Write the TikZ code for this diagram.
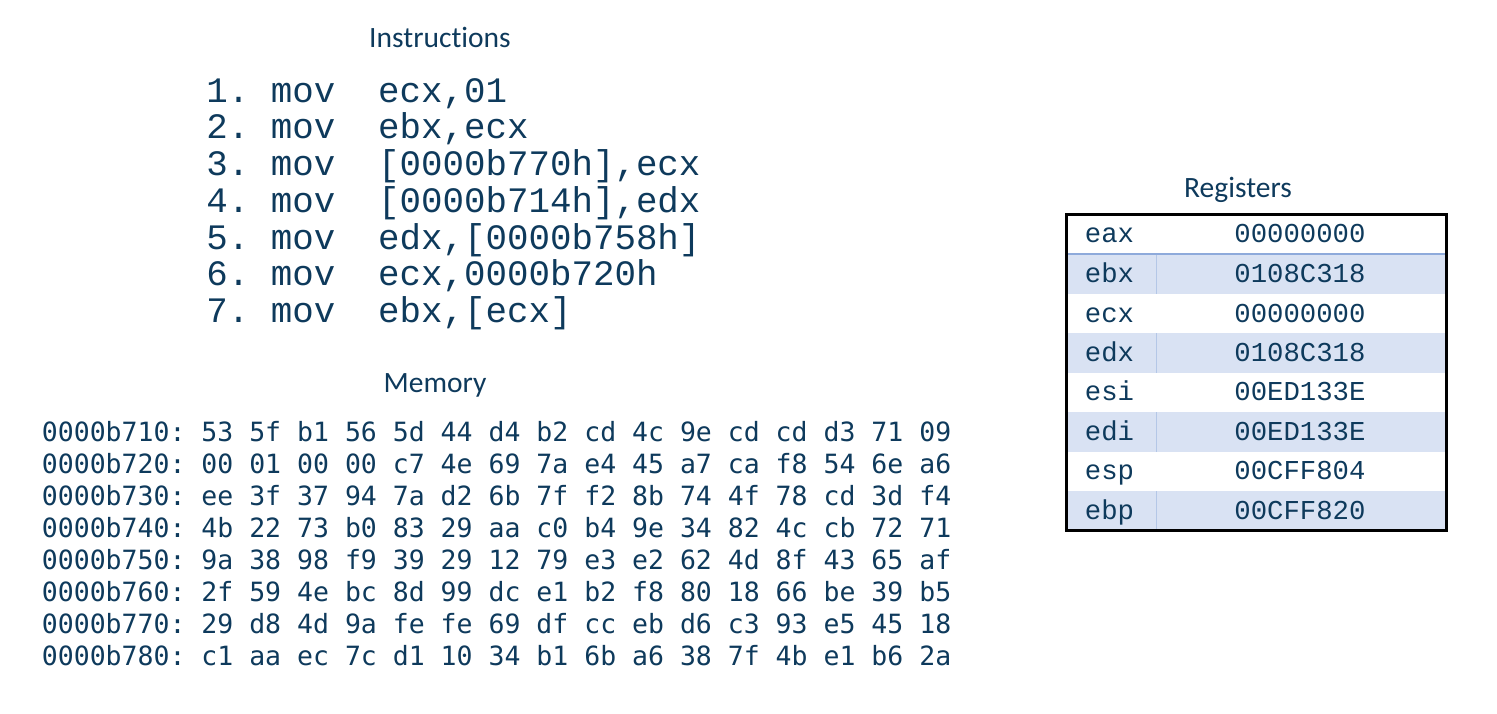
\documentclass[tikz,border=0pt]{standalone}
\usepackage{fontspec}
\setmainfont{Carlito}[Ligatures=CommonOff]
\newfontfamily\courfont{Liberation Mono}
\newfontfamily\dvmfont{DejaVu Sans Mono}
\definecolor{ink}{RGB}{14,58,92}
\definecolor{rowblue}{RGB}{217,226,243}
\definecolor{sepblue}{RGB}{142,170,219}
\definecolor{divblue}{RGB}{180,199,231}
\begin{document}
\begin{tikzpicture}[x=0.5pt,y=-0.5pt,
  title/.style={font=\fontsize{14.75}{16}\selectfont, text=ink, inner sep=0pt, anchor=base},
  instr/.style={font=\courfont\fontsize{17.9}{20}\selectfont\frenchspacing, text=ink, inner sep=0pt, anchor=base west},
  memrow/.style={font=\dvmfont\fontsize{13.25}{15}\selectfont\frenchspacing, text=ink, inner sep=0pt, anchor=base west},
  reg/.style={font=\courfont\fontsize{13.65}{15}\selectfont, text=ink, inner sep=0pt, anchor=base west},
  bluerow/.style={fill=rowblue, draw=none},
  divline/.style={draw=divblue, line width=0.5pt},
  ]
\useasboundingbox (0,0) rectangle (1497,713);

% titles
\node[title] (tinstr) at (440,47) {Instructions};
\node[title] (tmem) at (435,392) {Memory};
\node[title] (treg) at (1238,197) {Registers};

% instructions
\node[instr] (i1) at (206,102)    {1. mov\ \ ecx,01};
\node[instr] (i2) at (206,138.75) {2. mov\ \ ebx,ecx};
\node[instr] (i3) at (206,175.5)  {3. mov\ \ [0000b770h],ecx};
\node[instr] (i4) at (206,212.25) {4. mov\ \ [0000b714h],edx};
\node[instr] (i5) at (206,249)    {5. mov\ \ edx,[0000b758h]};
\node[instr] (i6) at (206,285.75) {6. mov\ \ ecx,0000b720h};
\node[instr] (i7) at (206,322.5)  {7. mov\ \ ebx,[ecx]};

% memory
\node[memrow] (m1) at (41.5,441) {0000b710: 53 5f b1 56 5d 44 d4 b2 cd 4c 9e cd cd d3 71 09};
\node[memrow] (m2) at (41.5,473) {0000b720: 00 01 00 00 c7 4e 69 7a e4 45 a7 ca f8 54 6e a6};
\node[memrow] (m3) at (41.5,505) {0000b730: ee 3f 37 94 7a d2 6b 7f f2 8b 74 4f 78 cd 3d f4};
\node[memrow] (m4) at (41.5,537) {0000b740: 4b 22 73 b0 83 29 aa c0 b4 9e 34 82 4c cb 72 71};
\node[memrow] (m5) at (41.5,569) {0000b750: 9a 38 98 f9 39 29 12 79 e3 e2 62 4d 8f 43 65 af};
\node[memrow] (m6) at (41.5,601) {0000b760: 2f 59 4e bc 8d 99 dc e1 b2 f8 80 18 66 be 39 b5};
\node[memrow] (m7) at (41.5,633) {0000b770: 29 d8 4d 9a fe fe 69 df cc eb d6 c3 93 e5 45 18};
\node[memrow] (m8) at (41.5,665) {0000b780: c1 aa ec 7c d1 10 34 b1 6b a6 38 7f 4b e1 b6 2a};

% registers table
\fill[bluerow] (1066,254) rectangle (1446.7,294);
\fill[bluerow] (1066,333) rectangle (1446.7,372.7);
\fill[bluerow] (1066,412) rectangle (1446.7,451.7);
\fill[bluerow] (1066,491) rectangle (1446.7,530);
\draw[divline] (1156.7,254) -- (1156.7,294);
\draw[divline] (1156.7,333) -- (1156.7,372.7);
\draw[divline] (1156.7,412) -- (1156.7,451.7);
\draw[divline] (1156.7,491) -- (1156.7,530);
\draw[draw=sepblue, line width=0.75pt] (1066,254) -- (1446.7,254);
\draw[black, line width=1.5pt] (1066,214.3) rectangle (1446.7,530);

\node[reg] (n1) at (1084.5,242.7) {eax};
\node[reg] (v1) at (1234,242.7) {00000000};
\node[reg] (n2) at (1084.5,282.5) {ebx};
\node[reg] (v2) at (1234,282.5) {0108C318};
\node[reg] (n3) at (1084.5,322) {ecx};
\node[reg] (v3) at (1234,322) {00000000};
\node[reg] (n4) at (1084.5,361.4) {edx};
\node[reg] (v4) at (1234,361.4) {0108C318};
\node[reg] (n5) at (1084.5,400.9) {esi};
\node[reg] (v5) at (1234,400.9) {00ED133E};
\node[reg] (n6) at (1084.5,440.4) {edi};
\node[reg] (v6) at (1234,440.4) {00ED133E};
\node[reg] (n7) at (1084.5,479.9) {esp};
\node[reg] (v7) at (1234,479.9) {00CFF804};
\node[reg] (n8) at (1084.5,519) {ebp};
\node[reg] (v8) at (1234,519) {00CFF820};
\end{tikzpicture}
\end{document}
